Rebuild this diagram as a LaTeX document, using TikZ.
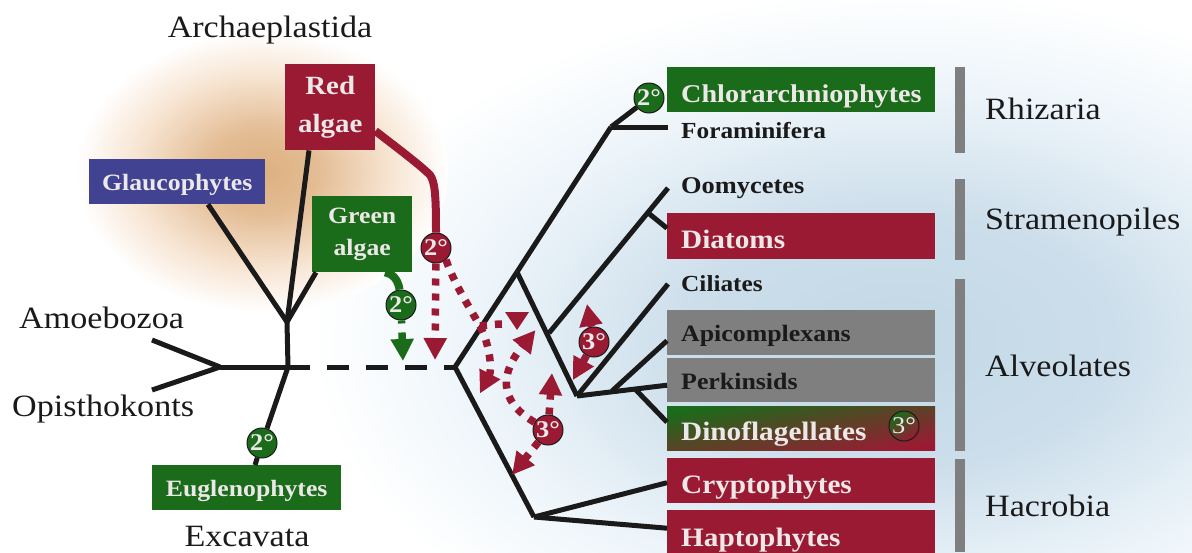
\documentclass[tikz,border=0pt]{standalone}
\usepackage{fontspec}
\setmainfont[FakeStretch=1.1]{Liberation Serif}
\usetikzlibrary{arrows.meta}
\definecolor{redalg}{HTML}{9B1A33}
\definecolor{greenalg}{HTML}{1A6B1A}
\definecolor{bluealg}{HTML}{414291}
\definecolor{grayalg}{HTML}{7F7F7F}
\definecolor{paper}{HTML}{EDE8E8}
\definecolor{ink}{HTML}{1A1A1A}
\definecolor{hazeA}{rgb}{0.76,0.85,0.90}
\definecolor{hazeB}{rgb}{0.80,0.87,0.92}
\definecolor{hazeC}{rgb}{0.93,0.96,0.98}
\definecolor{orgA}{rgb}{0.87,0.69,0.50}
\definecolor{orgB}{rgb}{0.89,0.74,0.58}
\definecolor{orgC}{rgb}{0.97,0.90,0.83}
\pgfdeclareradialshading{bluehaze}{\pgfpoint{0bp}{0bp}}{
 color(0bp)=(hazeA);
 color(9bp)=(hazeB);
 color(18bp)=(hazeC);
 color(25bp)=(white); color(100bp)=(white)}
\pgfdeclareradialshading{orangehaze}{\pgfpoint{0bp}{0bp}}{
 color(0bp)=(orgA);
 color(7.5bp)=(orgB);
 color(17.5bp)=(orgC);
 color(25bp)=(white); color(100bp)=(white)}
\tikzset{
 x=1pt,y=-1pt,
 branch/.style={draw=ink,line width=5pt},
 tag/.style={font=\fontsize{31}{31}\selectfont,anchor=base west,inner sep=0pt,text=ink},
 stem/.style={font=\fontsize{31}{31}\selectfont,inner sep=0pt,text=ink},
 box/.style={rectangle,anchor=north west,text=paper,font=\fontsize{26.6}{26.6}\selectfont\bfseries,minimum width=268pt,minimum height=45pt,text width=240pt,inner xsep=14pt,inner ysep=0pt,align=left,text height=35pt,text depth=10pt},
 graybox/.style={box,fill=grayalg,text=ink,font=\fontsize{23.5}{23.5}\selectfont\bfseries,text height=31pt,text depth=13pt},
 wee/.style={rectangle,anchor=north west,text=paper,inner sep=0pt,align=center,font=\fontsize{23.4}{23.4}\selectfont\bfseries},
 bare/.style={anchor=west,inner sep=0pt,text=ink,font=\fontsize{23}{23}\selectfont\bfseries},
 deg/.style={circle,draw=ink,line width=1pt,minimum size=30pt,inner sep=0pt,text=paper,font=\fontsize{24}{24}\selectfont\bfseries},
 bar/.style={fill=grayalg,draw=none,minimum width=10pt,inner sep=0pt,rectangle},
 solidred/.style={draw=redalg,line width=8pt},
 solidgreen/.style={draw=greenalg,line width=8pt},
 dotred/.style={draw=redalg,line width=7.5pt,dash pattern=on 7pt off 8pt},
 dotgreen/.style={draw=greenalg,line width=7.5pt,dash pattern=on 3pt off 9pt on 7pt off 9pt},
 headred/.style={-{Triangle[length=22pt,width=22pt,fill=redalg,sep=4pt]}},
 headtight/.style={-{Triangle[length=22pt,width=22pt,fill=redalg]}},
 headgreen/.style={-{Triangle[length=22pt,width=22pt,fill=greenalg,sep=1pt]}},
}
\begin{document}
\begin{tikzpicture}
\useasboundingbox (0,0) rectangle (1192,552);
\clip (0,0) rectangle (1192,552);
% background glows
\shade[shading=bluehaze] (900,340) ellipse [x radius=590,y radius=350];
\shade[shading=orangehaze] (262,172) ellipse [x radius=186,y radius=140];
% boxes on the left
\node[wee,fill=redalg,minimum width=90pt,minimum height=86pt,font=\fontsize{26.3}{38}\selectfont\bfseries] (red) at (285,64) {Red\\algae};
\node[wee,fill=bluealg,minimum width=176pt,minimum height=45pt,text height=31pt,text depth=14pt] (glauco) at (89,159) {Glaucophytes};
\node[wee,fill=greenalg,minimum width=100pt,minimum height=76pt,font=\fontsize{23.4}{32}\selectfont\bfseries] (green) at (312,196) {Green\\algae};
\node[wee,fill=greenalg,minimum width=189pt,minimum height=45pt,text height=31pt,text depth=14pt] (eugl) at (152,465) {Euglenophytes};
% boxes on the right
\node[box,fill=greenalg,font=\fontsize{25.6}{25.6}\selectfont\bfseries] (chlor) at (667,67) {Chlorarchniophytes};
\node[box,fill=redalg,minimum height=46pt] (diat) at (667,213) {Diatoms};
\node[graybox] (apic) at (667,310) {Apicomplexans};
\node[graybox,minimum height=44pt] (perk) at (667,358) {Perkinsids};
\node[box,top color=greenalg,bottom color=redalg,shading angle=10,minimum height=44pt,text height=34pt] (dino) at (667,406) {Dinoflagellates};
\node[box,fill=redalg] (crypt) at (667,458) {Cryptophytes};
\node[box,fill=redalg,minimum height=46pt,text height=36pt] (hapt) at (667,510) {Haptophytes};
% plain taxa
\node[bare] (fora) at (681,131) {Foraminifera};
\node[bare,font=\fontsize{24}{24}\selectfont\bfseries] (oomy) at (681,188) {Oomycetes};
\node[bare] (cili) at (681,284) {Ciliates};
% supergroup bars and labels
\node[bar,anchor=north west,minimum height=86pt] (barA) at (955,67) {};
\node[bar,anchor=north west,minimum height=81pt] (barB) at (955,179) {};
\node[bar,anchor=north west,minimum height=172pt] (barC) at (955,279) {};
\node[bar,anchor=north west,minimum height=93pt] (barD) at (955,459) {};
\node[tag] (rhiz) at (985,119) {Rhizaria};
\node[tag] (stra) at (985,229) {Stramenopiles};
\node[tag] (alve) at (985,376) {Alveolates};
\node[tag] (hacr) at (985,516) {Hacrobia};
\node[stem,anchor=base] (arch) at (270,37) {Archaeplastida};
\node[stem,anchor=base west] (amoe) at (19,328) {Amoebozoa};
\node[stem,anchor=base west] (opis) at (12,416) {Opisthokonts};
\node[stem,anchor=base] (exca) at (247,546) {Excavata};
% tree junctions and free ends
\coordinate (amEnd) at (152,340);
\coordinate (opEnd) at (152,390);
\coordinate (jL) at (220,367);
\coordinate (jStem) at (288,367);
\coordinate (jArc) at (287,322);
\coordinate (root) at (455,367);
\coordinate (jTop) at (517,272);
\coordinate (jRhi) at (611,127);
\coordinate (jStr) at (549,333);
\coordinate (jStr2) at (647,212);
\coordinate (jAlv) at (577,396);
\coordinate (jApi) at (612,391);
\coordinate (jDin) at (635,389);
\coordinate (jHac) at (534,517);
\coordinate (dashStart) at (288,367);
\coordinate (tGrn) at (403,362);
\coordinate (tRed) at (435,364);
\coordinate (fork) at (480,326);
\coordinate (tFa) at (478,397);
\coordinate (tFb) at (517,330);
\coordinate (eFb) at (503,324);
\coordinate (tLowUp) at (552,373);
\coordinate (tLowDn) at (512,475);
\coordinate (tLowArc) at (538,327);
\coordinate (tUpUp) at (587,304);
\coordinate (tUpDn) at (573,380);
% badges are placed first so that connectors can meet their borders
\node[deg,fill=greenalg] (dEug) at (262,443) {2°};
\node[deg,fill=greenalg] (dChl) at (649,98) {2°};
\node[deg,fill=greenalg] (dGrn) at (401,305) {2°};
\node[deg,fill=redalg] (dRed) at (436,248) {2°};
\node[deg,fill=redalg] (dUp) at (594,342) {3°};
\node[deg,fill=redalg] (dLow) at (548,430) {3°};
\node[deg,top color=greenalg,bottom color=redalg,shading angle=35,font=\fontsize{24}{24}\selectfont] (dDin) at (904,426) {3°};
% black tree
\draw[branch] (amEnd) -- (jL);
\draw[branch] (opEnd) -- (jL);
\draw[branch] (jL) -- (jStem);
\draw[branch] (jStem) -- (jArc);
\draw[branch] (jArc) -- ([xshift=119pt]glauco.south west);
\draw[branch] (jArc) -- ([xshift=24pt]red.south west);
\draw[branch] (jArc) -- ([xshift=4pt]green.south west);
\draw[branch] (jStem) -- (dEug);
\draw[branch] (dEug) -- ([xshift=103pt]eugl.north west);
\draw[branch,dash pattern=on 22pt off 17pt] (dashStart) -- (root);
\draw[branch,line join=round] (jTop) -- (root) -- (jHac);
\draw[branch] (jTop) -- (jRhi);
\draw[branch] (jRhi) -- (dChl);
\draw[branch] (jRhi) -- ([xshift=-13pt,yshift=4pt]fora.west);
\draw[branch] (jTop) -- (jAlv);
\draw[branch] (jStr) -- ([xshift=-13pt]oomy.west);
\draw[branch] (jStr2) -- ([yshift=8pt]diat.west);
\draw[branch] (jAlv) -- ([xshift=-13pt]cili.west);
\draw[branch] (jAlv) -- ([yshift=-5pt]perk.west);
\draw[branch] (jApi) -- ([yshift=-8pt]apic.west);
\draw[branch] (jDin) -- ([yshift=6pt]dino.west);
\draw[branch] (jHac) -- ([yshift=-2pt]crypt.west);
\draw[branch] (jHac) -- ([yshift=5pt]hapt.west);
% solid plastid transfers
\draw[solidred,line join=round] (red.east |- 0,131) .. controls (400,150) and (420,165) .. (430,175) .. controls (435,182) and (436,195) .. (dRed);
\draw[solidgreen] ([xshift=73pt]green.south west) .. controls (396,274) and (399,285) .. (dGrn);
% dashed transfers
\draw[dotgreen,headgreen] (dGrn) -- (tGrn);
\draw[dotred,headred] (dRed) -- (tRed);
\draw[dotred] (dRed.-50) .. controls (455,285) and (468,305) .. (fork);
\draw[dotred,headred] (fork) .. controls (490,345) and (492,370) .. (tFa);
\draw[dotred] (fork) .. controls (488,325) and (496,324) .. (eFb);
\fill[redalg] (tFb) -- ++(-12,-18) -- ++(24,0) -- cycle;
\draw[dotred,headtight] (dLow) -- (tLowUp);
\draw[dotred,headtight] (dLow) -- (tLowDn);
\draw[dotred,headred] (dLow.150) .. controls (505,405) and (495,380) .. (tLowArc);
\draw[dotred,headtight] (dUp) -- (tUpUp);
\draw[dotred,headtight] (dUp) -- (tUpDn);
\end{tikzpicture}
\end{document}
